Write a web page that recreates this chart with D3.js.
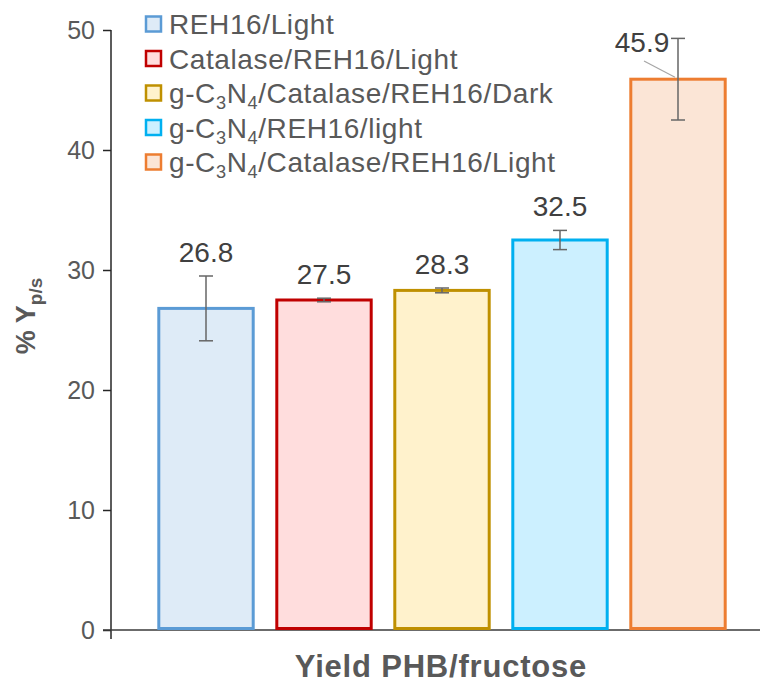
<!doctype html>
<head>
<meta charset="utf-8">
<script src="https://cdn.jsdelivr.net/npm/d3@7/dist/d3.min.js" charset="utf-8"></script>
<style>
body { margin: 0; background: #fff; }
text { font-family: "Liberation Sans", Arial, sans-serif; fill: #595959; }
</style>
</head>
<body>
<script>

// data
var categories = ["REH16/Light", "Catalase/REH16/Light", "g-C_3N_4/Catalase/REH16/Dark",
                  "g-C_3N_4/REH16/light", "g-C_3N_4/Catalase/REH16/Light"];
var values = [26.8, 27.5, 28.3, 32.5, 45.9];
var errors = [2.7, 0.15, 0.2, 0.8, 3.4];
var yTicks = [0, 10, 20, 30, 40, 50];
var strokes = ["#5B9BD5", "#C00000", "#BF9000", "#00B0F0", "#ED7D31"];
var fills = ["#DEEBF7", "#FFDDDD", "#FFF2CC", "#CCF0FF", "#FBE5D6"];

var W = 763, H = 684;
var svg = d3.select("body").append("svg")
  .attr("width", W)
  .attr("height", H);

var x = d3.scaleBand()
  .domain(d3.range(values.length))
  .range([147, 737])
  .paddingInner(0.2)
  .paddingOuter(0.1);
var y = d3.scaleLinear().domain([0, 50]).range([630, 30]);

// y axis
var yAxis = svg.append("g")
  .attr("transform", "translate(111,0)")
  .call(d3.axisLeft(y).tickValues(yTicks).tickSize(8).tickPadding(8));
yAxis.select(".domain").remove();
yAxis.selectAll(".tick line").attr("stroke", "#262626").attr("stroke-width", 1.5);
yAxis.selectAll(".tick text")
  .style("font-size", "25px")
  .style("fill", "#595959");
svg.append("line")
  .attr("x1", 111).attr("x2", 111)
  .attr("y1", y(50)).attr("y2", y(0) + 9)
  .attr("stroke", "#262626").attr("stroke-width", 1.5);
svg.append("line")
  .attr("x1", 103).attr("x2", 760)
  .attr("y1", y(0)).attr("y2", y(0))
  .attr("stroke", "#3a3a3a").attr("stroke-width", 1.5);

// bars
svg.append("g").selectAll("rect")
  .data(values)
  .join("rect")
  .attr("x", (d, i) => x(i))
  .attr("width", x.bandwidth())
  .attr("y", d => y(d))
  .attr("height", d => y(0) - y(d) - 1.5)
  .attr("fill", (d, i) => fills[i])
  .attr("stroke", (d, i) => strokes[i])
  .attr("stroke-width", 3);

// error bars
var eb = svg.append("g").attr("stroke", "#666").attr("stroke-width", 1.5);
values.forEach((v, i) => {
  var cx = x(i) + x.bandwidth() / 2;
  eb.append("line").attr("x1", cx).attr("x2", cx)
    .attr("y1", y(v + errors[i])).attr("y2", y(v - errors[i]));
  [v + errors[i], v - errors[i]].forEach(e => {
    eb.append("line").attr("x1", cx - 7).attr("x2", cx + 7)
      .attr("y1", y(e)).attr("y2", y(e));
  });
});

// value labels
values.forEach((v, i) => {
  var cx = x(i) + x.bandwidth() / 2;
  var last = i == values.length - 1;
  var ty = last ? y(50) + 22 : y(v + errors[i]) - 14;
  var tx = last ? cx - 36 : cx;
  svg.append("text")
    .attr("x", tx).attr("y", ty)
    .attr("text-anchor", "middle")
    .style("font-size", "28px")
    .style("fill", "#404040")
    .text(v.toFixed(1));
  if (last) {
    svg.append("line")
      .attr("x1", tx + 2).attr("y1", ty + 9)
      .attr("x2", cx - 3).attr("y2", y(v) - 2)
      .attr("stroke", "#a6a6a6").attr("stroke-width", 1.2);
  }
});

// legend, with subscripts
function richText(sel, str, size) {
  var shift = 0;
  str.split(/_(\d)/).forEach((part, k) => {
    if (!part) return;
    if (k % 2) {
      sel.append("tspan").attr("dy", 6 - shift).style("font-size", (size * 0.65) + "px").text(part);
      shift = 6;
    } else {
      sel.append("tspan").attr("dy", -shift).text(part);
      shift = 0;
    }
  });
}
var lg = svg.append("g");
categories.forEach((c, i) => {
  var cy = 24 + i * 34.5;
  lg.append("rect")
    .attr("x", 146).attr("y", cy - 7.5)
    .attr("width", 15).attr("height", 15)
    .attr("fill", fills[i])
    .attr("stroke", strokes[i])
    .attr("stroke-width", 2.5);
  var t = lg.append("text")
    .attr("x", 169).attr("y", cy + 10)
    .style("font-size", "28px")
    .style("letter-spacing", "0.6px");
  richText(t, c, 28);
});

// axis titles
svg.append("text")
  .attr("x", 441).attr("y", 677)
  .attr("text-anchor", "middle")
  .style("font-size", "31px")
  .style("letter-spacing", "0.8px")
  .style("font-weight", "bold")
  .text("Yield PHB/fructose");

var yt = svg.append("text")
  .attr("transform", "translate(35,316) rotate(-90)")
  .attr("text-anchor", "middle")
  .style("font-size", "27px")
  .style("font-weight", "bold");
yt.append("tspan").text("% Y");
yt.append("tspan").attr("dy", 7).style("font-size", "19px").text("p/s");

</script>
</body>
</html>
